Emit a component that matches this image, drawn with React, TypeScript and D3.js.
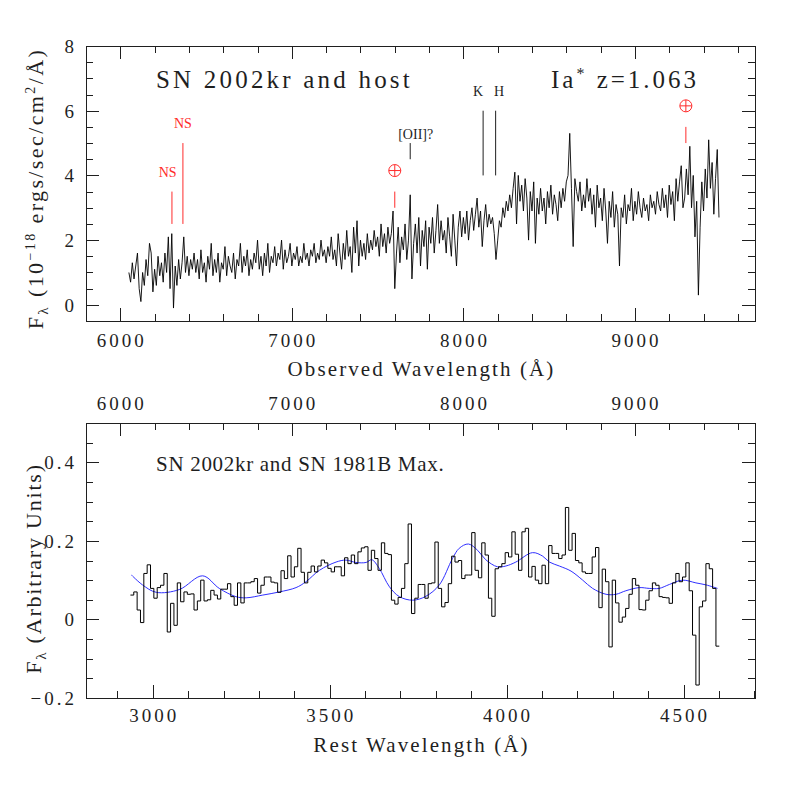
import React from "react";
import * as d3 from "d3";

// SN 2002kr spectrum (observed frame, 10^-18 erg/s/cm^2/A), one value every 10 A from 6050 A
const REDSHIFT = 1.063;
const HOST_START = 6050;
const HOST_STEP = 10;
const hostFlux = [
  1.0, 0.7, 1.3, 0.8, 1.2, 1.6, 0.5, 0.1, 1.0, 0.6, // 6050
  1.4, 0.9, 1.9, 1.6, 0.4, 1.1, 0.6, 1.5, 0.9, 1.3, // 6150
  0.7, 1.6, 1.0, 2.1, 0.5, 2.2, -0.1, 1.2, 0.6, 1.4, // 6250
  0.8, 1.3, 2.1, 1.0, 1.5, 0.9, 1.4, 1.1, 1.6, 1.0, // 6350
  1.4, 0.8, 1.7, 1.0, 1.3, 0.7, 1.5, 1.1, 1.9, 0.9, // 6450
  1.4, 1.0, 1.6, 0.7, 1.3, 1.1, 1.8, 0.9, 1.5, 1.2, // 6550
  1.0, 1.6, 0.8, 1.4, 1.2, 1.9, 1.0, 1.5, 1.2, 1.7, // 6650
  0.9, 1.4, 1.1, 1.6, 1.3, 2.0, 1.1, 1.5, 0.9, 1.6, // 6750
  1.2, 1.9, 1.0, 1.5, 1.3, 1.8, 1.2, 1.6, 1.4, 2.0, // 6850
  1.1, 1.7, 1.3, 1.5, 1.9, 1.2, 1.6, 1.4, 1.8, 1.2, // 6950
  1.5, 1.3, 1.9, 1.4, 1.6, 1.2, 1.7, 1.5, 1.9, 1.3, // 7050
  1.6, 1.4, 2.0, 1.5, 1.7, 1.3, 1.8, 1.5, 2.1, 1.4, // 7150
  1.7, 1.2, 2.2, 1.6, 1.1, 1.9, 1.4, 2.3, 1.5, 1.8, // 7250
  1.0, 2.4, 1.6, 2.6, 1.2, 2.0, 1.5, 1.9, 1.4, 2.2, // 7350
  1.6, 2.0, 1.7, 2.3, 1.8, 2.1, 1.5, 2.5, 1.8, 2.2, // 7450
  1.6, 2.4, 1.9, 2.2, 2.9, 0.5, 1.6, 2.4, 1.3, 2.1, // 7550
  1.7, 2.5, 1.4, 2.0, 3.4, 0.8, 1.9, 2.5, 1.6, 2.7, // 7650
  1.2, 2.3, 1.8, 2.6, 1.1, 2.4, 1.9, 2.7, 1.6, 2.3, // 7750
  3.1, 1.9, 2.6, 2.0, 2.3, 1.6, 2.7, 2.1, 1.5, 2.8, // 7850
  2.0, 1.2, 2.4, 2.9, 2.1, 2.7, 2.2, 2.9, 2.0, 2.6, // 7950
  3.0, 2.3, 2.8, 3.3, 2.4, 2.9, 1.8, 2.6, 3.1, 2.4, // 8050
  2.8, 2.5, 2.7, 2.2, 1.4, 2.0, 2.6, 2.4, 3.0, 2.7, // 8150
  3.2, 2.9, 3.4, 3.0, 3.6, 4.1, 2.5, 4.0, 3.2, 3.7, // 8250
  2.9, 3.9, 3.3, 2.0, 3.5, 2.9, 3.8, 1.9, 3.3, 2.8, // 8350
  3.6, 2.9, 3.3, 2.5, 3.5, 3.0, 3.7, 2.8, 3.4, 3.1, // 8450
  2.6, 3.5, 3.0, 3.6, 3.2, 3.8, 4.0, 5.3, 3.6, 1.8, // 8550
  3.9, 3.5, 3.2, 3.8, 2.9, 3.4, 3.0, 3.9, 3.2, 3.6, // 8650
  2.8, 3.4, 2.4, 3.7, 3.0, 3.3, 2.6, 3.6, 2.9, 1.9, // 8750
  3.2, 2.7, 3.5, 2.4, 3.1, 2.8, 1.2, 3.0, 2.7, 3.4, // 8850
  2.5, 3.1, 2.9, 3.6, 2.6, 3.2, 2.8, 3.5, 3.0, 2.7, // 8950
  3.3, 2.9, 3.1, 2.6, 3.4, 3.0, 3.2, 2.8, 3.5, 3.1, // 9050
  2.9, 3.6, 3.0, 3.4, 2.7, 3.7, 3.1, 3.5, 2.6, 3.9, // 9150
  3.2, 3.8, 4.3, 3.0, 3.3, 4.2, 3.4, 4.9, 3.0, 4.0, // 9250
  2.1, 3.2, 0.3, 2.4, 3.8, 2.9, 4.2, 3.3, 5.1, 3.6, // 9350
  4.4, 2.8, 3.9, 4.8, 2.7, // 9450
];

// rebinned rest-frame spectrum (arbitrary units), equal bins from 2937 A to 4601 A
const BIN_START = 2937;
const BIN_END = 4601;
const binnedFlux = [
  0.062, 0.07, 0.024, -0.008, 0.117, 0.139, 0.079, 0.054, 0.081, 0.087,
  0.117, -0.032, 0.041, -0.015, 0.093, 0.045, 0.07, 0.064, 0.065, 0.024,
  0.047, 0.1, 0.047, 0.05, 0.074, 0.062, 0.052, 0.077, 0.077, 0.091,
  0.058, 0.036, 0.093, 0.042, 0.093, 0.093, 0.096, 0.104, 0.067, 0.087,
  0.108, 0.108, 0.095, 0.093, 0.069, 0.124, 0.104, 0.162, 0.108, 0.134,
  0.181, 0.12, 0.093, 0.12, 0.136, 0.121, 0.136, 0.151, 0.144, 0.13,
  0.121, 0.134, 0.134, 0.111, 0.157, 0.142, 0.164, 0.142, 0.172, 0.182,
  0.185, 0.125, 0.176, 0.155, 0.125, 0.195, 0.168, 0.165, 0.049, 0.039,
  0.056, 0.079, 0.142, 0.243, 0.015, 0.054, 0.089, 0.089, 0.054, 0.091,
  0.093, 0.197, 0.079, 0.032, 0.043, 0.091, 0.161, 0.146, 0.15, 0.104,
  0.113, 0.113, 0.221, 0.125, 0.106, 0.195, 0.164, 0.054, 0.008, 0.129,
  0.134, 0.142, 0.17, 0.159, 0.223, 0.166, 0.125, 0.223, 0.232, 0.108,
  0.135, 0.1, 0.091, 0.138, 0.091, 0.188, 0.168, 0.168, 0.155, 0.164,
  0.285, 0.176, 0.219, 0.15, 0.144, 0.121, 0.117, 0.117, 0.159, 0.183,
  0.03, 0.128, 0.096, -0.07, 0.1, 0.042, -0.007, 0.006, 0.028, 0.064,
  0.104, 0.087, 0.025, 0.024, 0.049, 0.073, 0.093, 0.087, 0.058, 0.056,
  0.055, 0.041, 0.093, 0.117, 0.096, 0.108, 0.144, 0.073, -0.04, -0.167,
  0.032, 0.047, 0.142, 0.129, 0.079, -0.068,
];

// SN 1981B at maximum (smooth template)
const templateWave = [
  2940, 2971, 3010, 3075, 3141, 3188, 3235, 3264, 3311, 3358, 3405, 3433, 3471,
  3518, 3546, 3574, 3603, 3619, 3640, 3669, 3697, 3735, 3772, 3810, 3847, 3866,
  3892, 3918, 3941, 3974, 3998, 4026, 4073, 4102, 4121, 4149, 4182, 4215, 4243,
  4281, 4309, 4337, 4375, 4403, 4431, 4460, 4497, 4535, 4563, 4596,
];
const templateFlux = [
  0.113, 0.088, 0.069, 0.076, 0.111, 0.079, 0.058, 0.055, 0.062, 0.07, 0.081,
  0.096, 0.125, 0.146, 0.151, 0.145, 0.145, 0.152, 0.13, 0.083, 0.058, 0.049,
  0.059, 0.088, 0.155, 0.181, 0.192, 0.176, 0.152, 0.134, 0.136, 0.146, 0.17,
  0.161, 0.146, 0.136, 0.123, 0.1, 0.079, 0.064, 0.064, 0.073, 0.081, 0.079,
  0.079, 0.089, 0.1, 0.093, 0.088, 0.079,
];

// axes
const OBS_DOMAIN = [5800, 9700];
const obsTicks = [6000, 7000, 8000, 9000];
const restTicks = [3000, 3500, 4000, 4500];
const fluxTicks = [0, 2, 4, 6, 8];
const arbTicks = [-0.2, 0, 0.2, 0.4];
const arbLabels = ["\u22120.2", "0", "0.2", "0.4"];

// line identifications in the top panel
const markers = [
  { wave: 6301, lo: 2.5, hi: 3.5, color: "red", label: "NS", lw: 6276, ly: 3.96 },
  { wave: 6365, lo: 2.5, hi: 5.0, color: "red", label: "NS", lw: 6365, ly: 5.46 },
  { wave: 7690, lo: 4.5, hi: 5.0, color: "black", label: "[OII]?", lw: 7722, ly: 5.13 },
  { wave: 8115, lo: 4.0, hi: 6.0, color: "black", label: "K", lw: 8085, ly: 6.46 },
  { wave: 8188, lo: 4.0, hi: 6.0, color: "black", label: "H", lw: 8208, ly: 6.46 },
];
const telluric = [
  { wave: 7600, lo: 3.0, hi: 3.5, cy: 4.15 },
  { wave: 9297, lo: 5.0, hi: 5.5, cy: 6.15 },
];

const FONT = "'Liberation Serif', 'Times New Roman', serif";
const INK = "#1f1f1f";
const RED = "#ff2b2b";
const BLUE = "#3030ff";

function XTicks({ scale, major, minorStep, y, dir }) {
  const [d0, d1] = scale.domain();
  const minor = d3.range(Math.ceil(d0 / minorStep) * minorStep, d1 + 0.001, minorStep);
  return (
    <g stroke={INK} strokeWidth={1} shapeRendering="crispEdges">
      {minor.map((t) => {
        const big = major.some((m) => Math.abs(m - t) < 1e-6);
        const x = Math.round(scale(t)) + 0.5;
        return <line key={t} x1={x} x2={x} y1={y} y2={y + dir * (big ? 13 : 7)} />;
      })}
    </g>
  );
}

function YTicks({ scale, major, minorStep, x, dir }) {
  const [d0, d1] = scale.domain();
  const minor = d3.range(Math.ceil(d0 / minorStep - 1e-6) * minorStep, d1 + 1e-6, minorStep);
  return (
    <g stroke={INK} strokeWidth={1} shapeRendering="crispEdges">
      {minor.map((t) => {
        const big = major.some((m) => Math.abs(m - t) < 1e-6);
        const y = Math.round(scale(t)) + 0.5;
        return <line key={t} x1={x} x2={x + dir * (big ? 13 : 7)} y1={y} y2={y} />;
      })}
    </g>
  );
}

function Frame({ p }) {
  return (
    <rect
      x={p.left + 0.5}
      y={p.top + 0.5}
      width={p.right - p.left}
      height={p.bottom - p.top}
      fill="none"
      stroke={INK}
      strokeWidth={1}
      shapeRendering="crispEdges"
    />
  );
}

export default function App() {
  const P1 = { left: 86, right: 755, top: 46, bottom: 321 };
  const P2 = { left: 86, right: 755, top: 423, bottom: 698 };

  const xObs = d3.scaleLinear().domain(OBS_DOMAIN).range([P1.left, P1.right]);
  const yFlux = d3.scaleLinear().domain([-0.5, 8]).range([P1.bottom, P1.top]);
  const xRest = d3
    .scaleLinear()
    .domain(OBS_DOMAIN.map((w) => w / (1 + REDSHIFT)))
    .range([P2.left, P2.right]);
  const xObs2 = d3.scaleLinear().domain(OBS_DOMAIN).range([P2.left, P2.right]);
  const yArb = d3.scaleLinear().domain([-0.2, 0.5]).range([P2.bottom, P2.top]);

  const hostLine = d3
    .line()
    .x((d, i) => xObs(HOST_START + i * HOST_STEP))
    .y((d) => yFlux(d));

  const bw = (BIN_END - BIN_START) / binnedFlux.length;
  const steps = binnedFlux.map((v, i) => [BIN_START + i * bw, v]);
  steps.push([BIN_END, binnedFlux[binnedFlux.length - 1]]);
  const stepLine = d3
    .line()
    .x((d) => xRest(d[0]))
    .y((d) => yArb(d[1]))
    .curve(d3.curveStepAfter);

  const tmplLine = d3
    .line()
    .x((d, i) => xRest(templateWave[i]))
    .y((d) => yArb(d))
    .curve(d3.curveCatmullRom.alpha(0.5));

  const numStyle = { fontFamily: FONT, fontSize: 19, letterSpacing: 3, fill: INK };
  const titleStyle = { fontFamily: FONT, fontSize: 21, letterSpacing: 2.1, fill: INK };

  return (
    <div style={{ position: "fixed", left: 0, top: 0 }}>
      <svg width={797} height={797} style={{ display: "block", background: "#fff" }}>
        {/* ---------- top panel ---------- */}
        <defs>
          <clipPath id="clip1">
            <rect x={P1.left} y={P1.top} width={P1.right - P1.left} height={P1.bottom - P1.top} />
          </clipPath>
        </defs>
        <g clipPath="url(#clip1)">
          <path d={hostLine(hostFlux)} fill="none" stroke="#000" strokeWidth={0.9} />
        </g>

        {markers.map((m, i) => (
          <g key={i}>
            <line
              x1={xObs(m.wave)}
              x2={xObs(m.wave)}
              y1={yFlux(m.lo)}
              y2={yFlux(m.hi)}
              stroke={m.color === "red" ? RED : INK}
              strokeWidth={1}
            />
            <text
              x={xObs(m.lw)}
              y={yFlux(m.ly)}
              textAnchor="middle"
              fontFamily={FONT}
              fontSize={14}
              fill={m.color === "red" ? RED : INK}
            >
              {m.label}
            </text>
          </g>
        ))}
        {telluric.map((t, i) => {
          const cx = xObs(t.wave);
          const cy = yFlux(t.cy);
          return (
            <g key={i} stroke={RED} strokeWidth={1} fill="none">
              <line x1={cx} x2={cx} y1={yFlux(t.lo)} y2={yFlux(t.hi)} />
              <circle cx={cx} cy={cy} r={6} />
              <line x1={cx - 6} x2={cx + 6} y1={cy} y2={cy} />
              <line x1={cx} x2={cx} y1={cy - 6} y2={cy + 6} />
            </g>
          );
        })}

        <text x={156} y={88} fontFamily={FONT} fontSize={25} letterSpacing={3.2} fill={INK}>
          SN 2002kr and host
        </text>
        <text x={551} y={88} fontFamily={FONT} fontSize={25} letterSpacing={3} fill={INK}>
          Ia
          <tspan fontSize={16} dy={-9}>*</tspan>
          <tspan dy={9}> z=1.063</tspan>
        </text>

        <Frame p={P1} />
        <XTicks scale={xObs} major={obsTicks} minorStep={200} y={P1.bottom} dir={-1} />
        <XTicks scale={xObs} major={obsTicks} minorStep={200} y={P1.top} dir={1} />
        <YTicks scale={yFlux} major={fluxTicks} minorStep={0.5} x={P1.left} dir={1} />
        <YTicks scale={yFlux} major={fluxTicks} minorStep={0.5} x={P1.right} dir={-1} />

        {obsTicks.map((t) => (
          <text key={t} x={xObs(t) + 1.5} y={347} textAnchor="middle" style={numStyle}>
            {t}
          </text>
        ))}
        {fluxTicks.map((t) => (
          <text key={t} x={77} y={yFlux(t) + 7} textAnchor="end" style={numStyle}>
            {t}
          </text>
        ))}
        <text x={(P1.left + P1.right) / 2 + 1} y={376} textAnchor="middle" style={titleStyle}>
          Observed Wavelength (Å)
        </text>
        <text
          transform={`translate(43, ${(P1.top + P1.bottom) / 2 + 5}) rotate(-90)`}
          textAnchor="middle"
          style={{ ...titleStyle, fontSize: 22, letterSpacing: 2.4 }}
        >
          F<tspan fontSize={15} dy={5}>λ</tspan>
          <tspan dy={-5}> (10</tspan>
          <tspan fontSize={14} dy={-8}>−18</tspan>
          <tspan dy={8}> ergs/sec/cm</tspan>
          <tspan fontSize={14} dy={-8}>2</tspan>
          <tspan dy={8}>/Å)</tspan>
        </text>

        {/* ---------- bottom panel ---------- */}
        <path d={tmplLine(templateFlux)} fill="none" stroke={BLUE} strokeWidth={1} />
        <path d={stepLine(steps)} fill="none" stroke="#000" strokeWidth={1} />

        <text x={156} y={471} fontFamily={FONT} fontSize={21} letterSpacing={0.7} fill={INK}>
          SN 2002kr and SN 1981B Max.
        </text>

        <Frame p={P2} />
        <XTicks scale={xRest} major={restTicks} minorStep={100} y={P2.bottom} dir={-1} />
        <XTicks scale={xObs2} major={obsTicks} minorStep={200} y={P2.top} dir={1} />
        <YTicks scale={yArb} major={arbTicks} minorStep={0.05} x={P2.left} dir={1} />
        <YTicks scale={yArb} major={arbTicks} minorStep={0.05} x={P2.right} dir={-1} />

        {restTicks.map((t) => (
          <text key={t} x={xRest(t) + 1.5} y={722} textAnchor="middle" style={numStyle}>
            {t}
          </text>
        ))}
        {obsTicks.map((t) => (
          <text key={t} x={xObs2(t) + 1.5} y={410} textAnchor="middle" style={numStyle}>
            {t}
          </text>
        ))}
        {arbTicks.map((t, i) => (
          <text key={t} x={77} y={yArb(t) + 7} textAnchor="end" style={numStyle}>
            {arbLabels[i]}
          </text>
        ))}
        <text x={(P2.left + P2.right) / 2 + 1} y={752} textAnchor="middle" style={titleStyle}>
          Rest Wavelength (Å)
        </text>
        <text
          transform={`translate(41, ${(P2.top + P2.bottom) / 2 + 8}) rotate(-90)`}
          textAnchor="middle"
          style={{ ...titleStyle, fontSize: 22, letterSpacing: 1.8 }}
        >
          F<tspan fontSize={15} dy={5}>λ</tspan>
          <tspan dy={-5}> (Arbitrary Units)</tspan>
        </text>
      </svg>
    </div>
  );
}
